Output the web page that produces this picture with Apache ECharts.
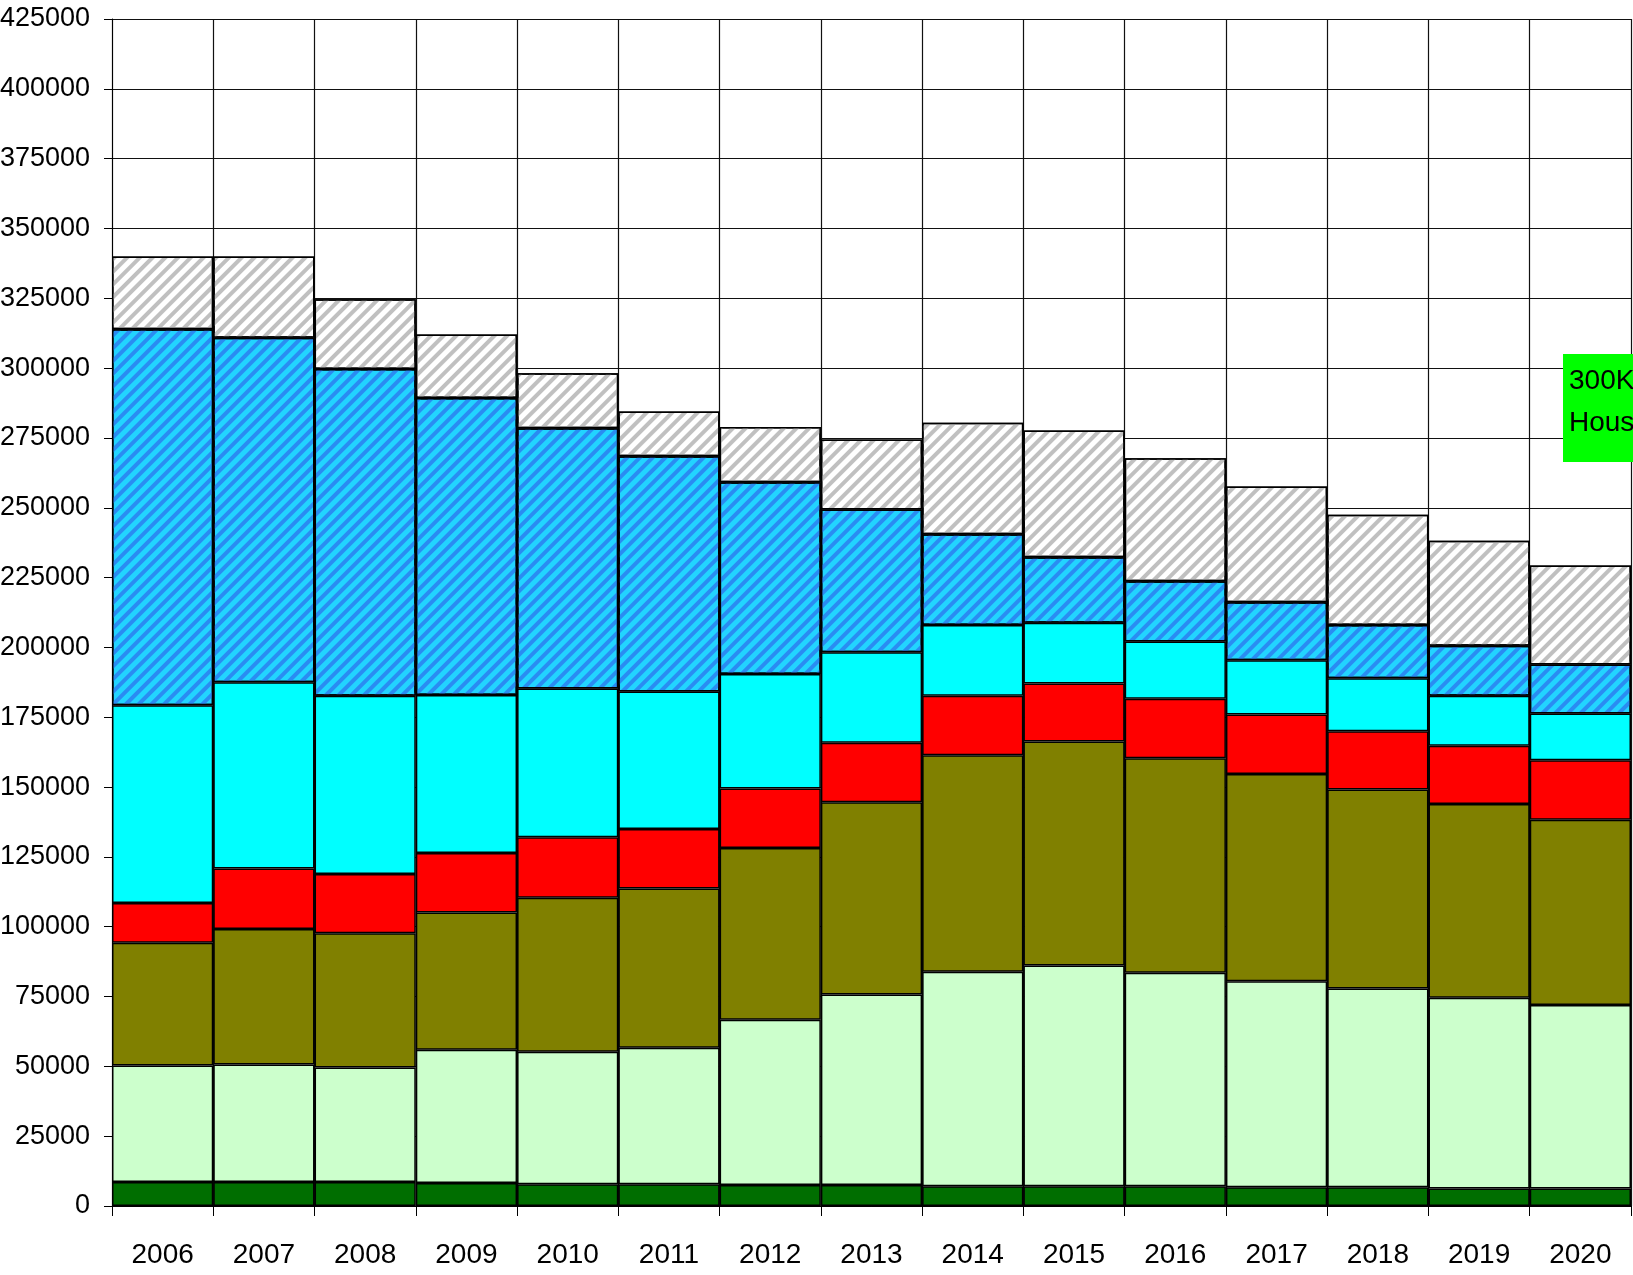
<!DOCTYPE html>
<html>
<head>
<meta charset="utf-8">
<script src="https://cdn.jsdelivr.net/npm/echarts@6/dist/echarts.min.js"></script>
<style>
  html, body { margin: 0; padding: 0; background: #fff; }
  #chart { width: 1633px; height: 1275px; }
</style>
</head>
<body>
<div id="chart"></div>
<script>
var years = ['2006', '2007', '2008', '2009', '2010', '2011', '2012', '2013', '2014', '2015', '2016', '2017', '2018', '2019', '2020'];

// stacked segments, bottom to top
var darkGreen  = [8600, 8600, 8600, 8200, 7800, 7800, 7500, 7500, 7100, 7100, 7100, 6700, 6700, 6300, 6300];
var lightGreen = [41700, 42100, 41000, 47700, 47400, 48900, 59200, 68200, 76800, 79000, 76400, 73800, 71200, 68300, 65700];
var olive      = [44000, 48500, 48100, 49200, 55200, 57000, 61500, 68900, 77500, 80200, 76800, 74200, 71200, 69300, 66300];
var red        = [14200, 21600, 21200, 21300, 21600, 21300, 21300, 21300, 21300, 20800, 21300, 21300, 20900, 20900, 21300];
var cyan       = [70800, 66700, 63800, 56600, 53300, 49200, 41000, 32400, 25300, 21700, 20500, 19400, 19000, 17900, 16700];
var blueHatch  = [134600, 123400, 117000, 106300, 93200, 84200, 68600, 51100, 32500, 23500, 21600, 20800, 19000, 17900, 17600];
var greyHatch  = [26100, 29100, 25000, 22700, 19700, 16100, 19800, 25000, 39900, 45400, 44000, 41400, 39500, 37600, 35400];

var font = '"Liberation Sans", Arial, sans-serif';
var myChart = echarts.init(document.getElementById('chart'));

function stripes(color) {
    return {
        symbol: 'rect',
        symbolSize: 1,
        dashArrayX: [1, 0],
        dashArrayY: [3.5, 4.5],
        rotation: -Math.PI / 4,
        color: color
    };
}

function layer(name, data, color, decal) {
    var s = {
        name: name,
        type: 'bar',
        stack: 'total',
        barCategoryGap: 0,
        data: data,
        itemStyle: {
            color: color,
            borderColor: '#000',
            borderWidth: 1.5
        }
    };
    if (decal) s.itemStyle.decal = decal;
    return s;
}

myChart.setOption({
    backgroundColor: '#fff',
    animation: false,
    grid: { left: 112, top: 19, right: 2, bottom: 69, outerBoundsMode: 'none' },
    xAxis: {
        type: 'category',
        data: years,
        axisLine: { lineStyle: { color: '#000', width: 1 } },
        axisTick: { show: true, length: 10, interval: 0, lineStyle: { color: '#000' } },
        axisLabel: { color: '#000', fontFamily: font, fontSize: 28, margin: 35, interval: 0 },
        splitLine: { show: true, interval: 0, lineStyle: { color: '#111', width: 1.2 } }
    },
    yAxis: {
        type: 'value',
        min: 0,
        max: 425000,
        interval: 25000,
        axisLine: { show: true, lineStyle: { color: '#000', width: 1 } },
        axisTick: { show: true, inside: false, length: 8, lineStyle: { color: '#000' } },
        axisLabel: {
            color: '#000', fontFamily: font, fontSize: 27, margin: 22,
            formatter: function (v) { return String(v); }
        },
        splitLine: { show: true, lineStyle: { color: '#111', width: 1.2 } }
    },
    series: [
        layer('A', darkGreen, '#006e00'),
        layer('B', lightGreen, '#ccffcc'),
        layer('C', olive, '#808000'),
        layer('D', red, '#ff0000'),
        layer('E', cyan, '#00ffff'),
        layer('F', blueHatch, '#22d4ff', stripes('#2a8cf2')),
        layer('G', greyHatch, '#ffffff', stripes('#c0c0c0'))
    ],
    graphic: [
        {
            type: 'rect',
            left: 1563, top: 354,
            shape: { width: 120, height: 108 },
            style: { fill: '#00ff00' },
            z: 100
        },
        {
            type: 'text',
            left: 1569, top: 360,
            style: {
                text: '300K goal\nHouseholds',
                font: '28px ' + font,
                fill: '#000',
                lineHeight: 42
            },
            z: 101
        }
    ]
});
</script>
</body>
</html>
